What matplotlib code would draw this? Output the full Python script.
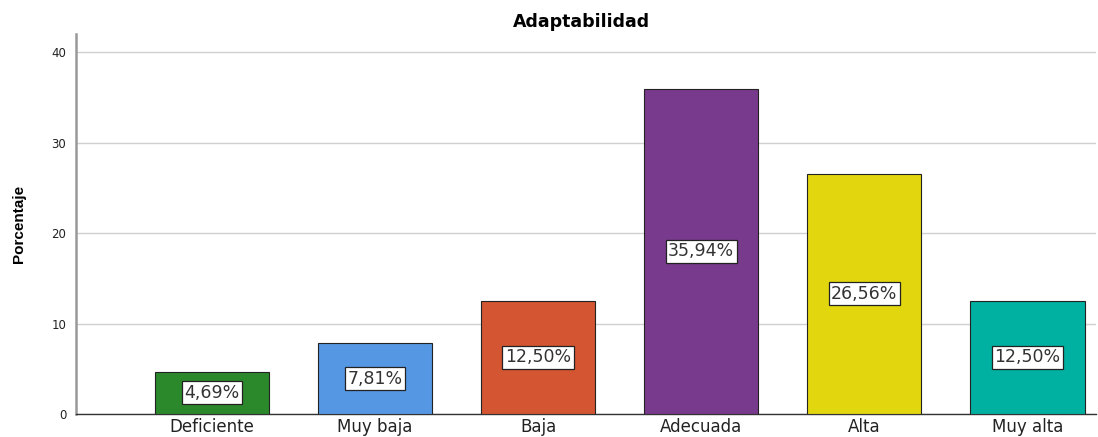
import matplotlib
matplotlib.use("Agg")
import matplotlib.pyplot as plt

categories = ["Deficiente", "Muy baja", "Baja", "Adecuada", "Alta", "Muy alta"]
values = [4.69, 7.81, 12.50, 35.94, 26.56, 12.50]
labels = ["4,69%", "7,81%", "12,50%", "35,94%", "26,56%", "12,50%"]
colors = ["#2b882b", "#5597e3", "#d35532", "#773a8c", "#e2d60f", "#00b0a0"]
yticks = [0, 10, 20, 30, 40]

plt.rcParams['font.family'] = ['DejaVu Sans']
fig = plt.figure(figsize=(10.98, 4.37), dpi=100)
ax = fig.add_axes([76/1098, 1-414/437, (1096-76)/1098, (414-34)/437])

x = list(range(len(categories)))
bars = ax.bar(x, values, width=0.7, color=colors, edgecolor="#222222", linewidth=0.8, zorder=3)
for xi, v, lab in zip(x, values, labels):
    ax.text(xi, v/2, lab, ha="center", va="center", fontsize=12.5, color="#333333", zorder=4,
            bbox=dict(boxstyle="square,pad=0.15", facecolor="white", edgecolor="#222222", linewidth=0.9))

ax.set_xlim(-0.833, 5.42)
ax.set_ylim(0, 42)
ax.set_yticks(yticks)
ax.set_yticklabels([str(t) for t in yticks], fontsize=8.5, color="#222222")
ax.set_xticks(x)
ax.set_xticklabels(categories, fontsize=12, color="#222222")
ax.tick_params(axis="y", length=0, pad=7)
ax.tick_params(axis="x", length=0, pad=3)
ax.grid(axis="y", color="#d0d0d0", linewidth=1, zorder=0)
for s in ["top", "right"]:
    ax.spines[s].set_visible(False)
ax.spines["left"].set_color("#999999")
ax.spines["left"].set_linewidth(1.8)
ax.spines["bottom"].set_color("#333333")
ax.spines["bottom"].set_linewidth(1)
ax.set_ylabel("Porcentaje", fontsize=11, fontweight="bold", labelpad=18,
              family=["Liberation Sans", "DejaVu Sans"])
fig.text(581/1098, 1-22/437, "Adaptabilidad", ha="center", va="center", fontsize=12.5, fontweight="bold")

fig.savefig("out.png", dpi=100)
